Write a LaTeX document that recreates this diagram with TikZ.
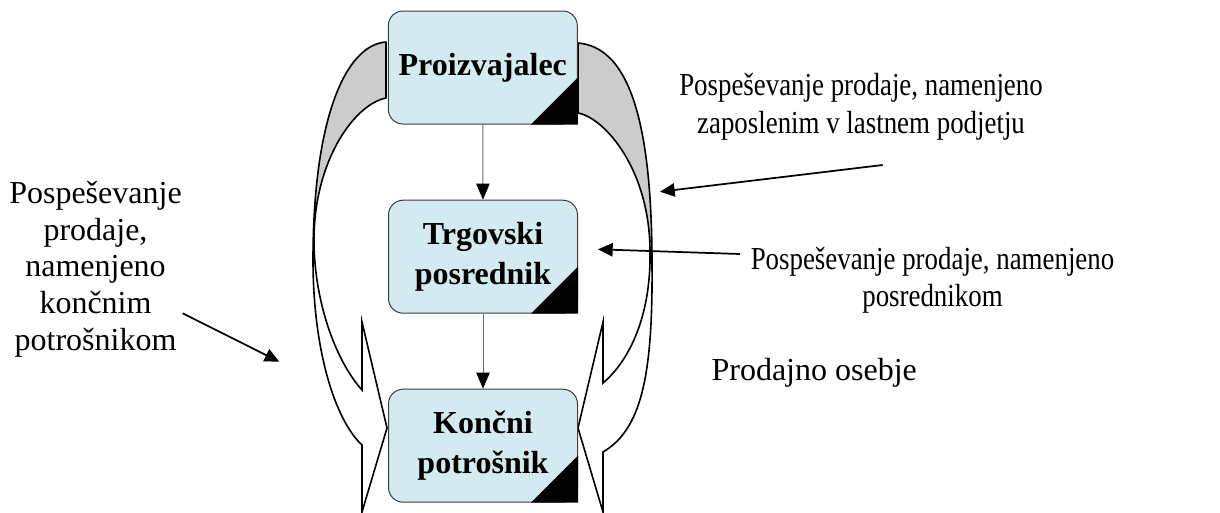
\documentclass[tikz,border=0pt]{standalone}
\usepackage{fontspec}
\setmainfont{Liberation Serif}
\newfontfamily\condfont[FakeStretch=0.84]{Liberation Serif}
\usetikzlibrary{arrows.meta}
\definecolor{boxfill}{RGB}{210,234,240}
\definecolor{backgray}{RGB}{204,204,204}
\definecolor{boxline}{RGB}{60,60,60}
\definecolor{connline}{RGB}{110,110,110}
\begin{document}
\begin{tikzpicture}[x=0.75pt,y=-0.75pt,
  stagebox/.style={draw=boxline, line width=0.75pt, fill=boxfill, rounded corners=11pt,
    minimum width=141.75pt, minimum height=84.75pt, inner sep=0pt, align=center,
    font=\fontsize{24}{30}\selectfont\bfseries},
  cornerfill/.style={fill=black},
  shapeback/.style={fill=backgray, draw=black, line width=1.2pt, line join=round},
  shapefront/.style={fill=white, draw=black, line width=1.2pt, line join=miter},
  flow/.style={draw=connline, line width=0.75pt, -{Triangle[length=12pt,width=10pt,color=black]}},
  pointer/.style={draw=black, line width=1.3pt, -{Triangle[length=11pt,width=10pt]}},
  lbl/.style={inner sep=0pt, align=center, font=\fontsize{24}{27.5}\selectfont},
  lblc/.style={inner sep=0pt, align=center, font=\condfont\fontsize{24}{28}\selectfont},
]
\useasboundingbox (0,0) rectangle (1220,512);

% left curved arrow
\filldraw[shapeback] (386,42) .. controls (345,45) and (313,120) .. (313,260)
  -- (314,240) .. controls (314,160) and (355,104) .. (386,98) -- cycle;
\filldraw[shapefront] (313,260) .. controls (313,350) and (335,420) .. (362,445)
  -- (362,512) -- (387,428) -- (362,322) -- (362,390)
  .. controls (335,360) and (314,300) .. (314,240) -- cycle;

% right curved arrow
\filldraw[shapeback] (578,43) .. controls (625,47) and (652,110) .. (652,265)
  -- (650,252) .. controls (650,170) and (605,118) .. (578,113) -- cycle;
\filldraw[shapefront] (652,265) .. controls (653,380) and (640,430) .. (603,452)
  -- (603,512) -- (578,428) -- (603,322) -- (603,383)
  .. controls (630,360) and (651,315) .. (650,252) -- cycle;

% boxes
\node[stagebox] (top) at (482.8,67.5) {Proizvajalec};
\node[stagebox] (mid) at (483,256.7) {Trgovski\\posrednik};
\node[stagebox] (bot) at (483,445.7) {Končni\\potrošnik};
\foreach \b in {top,mid,bot}{
  \fill[cornerfill] (\b.south east) -- ++(-47,0) -- ++(47,-47) -- cycle;
}

\draw[flow] (top) -- (mid);
\draw[flow] (mid) -- (bot);

% labels (base anchor = baseline of the last line)
\node[lbl, anchor=base] (tcons) at (95.5,350) {Pospeševanje\\prodaje,\\namenjeno\\končnim\\potrošnikom};
\node[lblc, anchor=base] (temp) at (861,133.3) {Pospeševanje prodaje, namenjeno\\zaposlenim v lastnem podjetju};
\node[lblc, anchor=base] (tint) at (932.5,306.7) {Pospeševanje prodaje, namenjeno\\posrednikom};
\node[lbl, anchor=base] (tsales) at (814.2,380) {Prodajno osebje};

% pointers
\coordinate (pa1) at (182.7,313.3);
\coordinate (pa2) at (279.3,361.7);
\coordinate (pb1) at (882.7,165);
\coordinate (pb2) at (660,191.7);
\coordinate (pc1) at (740,254);
\coordinate (pc2) at (598,249.3);
\draw[pointer] (pa1) -- (pa2);
\draw[pointer] (pb1) -- (pb2);
\draw[pointer] (pc1) -- (pc2);
\end{tikzpicture}
\end{document}
